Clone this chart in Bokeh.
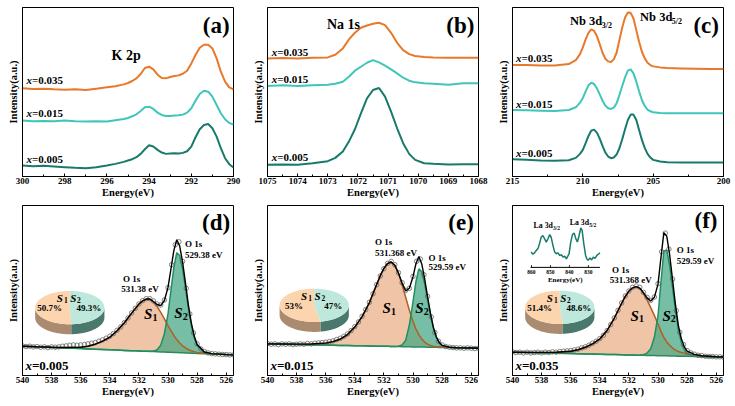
import numpy as np
from bokeh.plotting import figure
from bokeh.layouts import column, row
from bokeh.models import Range1d, FixedTicker
from bokeh.core.properties import value
from bokeh.embed import file_html
from bokeh.resources import INLINE

FONT = "Liberation Serif"
C005 = "#177a6b"
C015 = "#3fc6bb"
C035 = "#e8782a"
SAMPLES = ["0.005", "0.015", "0.035"]

# ---------------- K 2p ----------------
K2P_E = [300, 299.5, 299, 298.5, 298, 297.5, 297, 296.5, 296, 295.6, 295.2, 295.0, 294.8,
         294.6, 294.4, 294.2, 294.0, 293.8, 293.6, 293.4, 293.2, 293.0, 292.8, 292.6, 292.4,
         292.2, 292.0, 291.8, 291.6, 291.4, 291.2, 291.0, 290.8, 290.6, 290.4, 290.2, 290.0]
K2P_005 = [33, 31, 32, 30, 28, 26, 25, 28, 33, 38, 44, 48, 52, 58, 68, 82, 94, 90, 80, 72, 68,
           69, 70, 69, 71, 76, 90, 118, 142, 155, 158, 145, 120, 85, 55, 37, 27]
K2P_015 = [168, 166, 167, 166, 168, 166, 165, 166, 165, 169, 173, 176, 181, 187, 197, 208, 210,
           203, 192, 185, 182, 182, 183, 184, 186, 192, 205, 228, 248, 258, 255, 240, 215, 190,
           172, 161, 156]
K2P_035 = [265, 263, 264, 262, 261, 262, 260, 264, 268, 271, 277, 281, 287, 295, 308, 326, 330,
           322, 306, 296, 295, 299, 302, 304, 309, 318, 340, 365, 387, 396, 396, 385, 355, 315,
           285, 268, 262]

# ---------------- Na 1s ----------------
NA1S_E = [1075, 1074.5, 1074, 1073.5, 1073, 1072.75, 1072.5, 1072.3, 1072.1, 1071.9, 1071.7,
          1071.5, 1071.3, 1071.1, 1070.9, 1070.7, 1070.5, 1070.3, 1070.1, 1069.8, 1069.5, 1069,
          1068.5, 1068]
NA1S_005 = [35, 36, 35, 40, 46, 56, 75, 105, 142, 190, 235, 260, 266, 240, 195, 145, 100, 68, 50,
            40, 38, 36, 37, 37]
NA1S_015 = [272, 274, 272, 274, 276, 279, 285, 300, 318, 330, 342, 350, 343, 333, 322, 310, 297,
            288, 283, 280, 279, 276, 280, 280]
NA1S_035 = [355, 356, 355, 357, 358, 366, 385, 412, 432, 447, 454, 459, 462, 455, 432, 402, 380,
            368, 362, 359, 358, 357, 357, 357]

# ---------------- Nb 3d ----------------
NB3D_E = [215, 214, 213, 212, 211, 210.5, 210.2, 210, 209.8, 209.6, 209.4, 209.2, 209, 208.8,
          208.6, 208.4, 208.2, 208, 207.8, 207.6, 207.4, 207.2, 207, 206.8, 206.6, 206.4, 206.2,
          206, 205.8, 205.6, 205.4, 205.2, 205, 204.5, 204, 203, 202, 201, 200]
NB3D_005 = [52, 50, 48, 47, 49, 56, 68, 80, 100, 122, 138, 141, 132, 114, 92, 72, 60, 55, 57, 66,
            85, 112, 142, 170, 186, 186, 170, 140, 110, 86, 68, 57, 50, 45, 43, 42, 42, 42, 42]
NB3D_015 = [200, 199, 198, 197, 200, 208, 222, 236, 256, 274, 282, 278, 265, 247, 228, 213, 205,
            203, 207, 220, 245, 272, 298, 318, 322, 310, 285, 256, 230, 212, 201, 196, 193, 191,
            190, 190, 190, 190, 190]
NB3D_035 = [335, 335, 334, 334, 338, 350, 368, 388, 412, 432, 442, 438, 422, 398, 372, 354, 346,
            344, 352, 372, 410, 448, 478, 493, 492, 475, 440, 405, 375, 355, 342, 335, 331, 328,
            326, 325, 324, 323, 323]

# ---------------- O 1s fits ----------------
O1S_FIT_E = [540, 539, 538, 537, 536, 535.5, 535, 534.5, 534, 533.5, 533, 532.5, 532.25, 532,
             531.75, 531.5, 531.25, 531, 530.75, 530.5, 530.25, 530, 529.8, 529.6, 529.4, 529.2,
             529, 528.8, 528.6, 528.4, 528.2, 528, 527.5, 527, 526, 525.5]
# baseline (Shirley-type, straight) end values at 540 eV and 525.5 eV
BG_D = [88, 62]
BG_E = [95, 82]
BG_F = [70, 55]
# component heights above baseline
S1_D = [0, 0, 0.5, 1.5, 4, 8, 15, 25, 38, 58, 83, 113, 127, 141, 151, 157, 157, 149, 136, 119,
        100, 80, 65, 51, 39, 29, 21, 15, 10, 7, 5, 3, 1, 0.5, 0, 0]
S2_D = [0] * 16 + [0.5, 1.5, 6, 20, 55, 115, 185, 255, 300, 292, 252, 195, 134, 84, 47, 24, 4,
                   0.5, 0, 0]
S1_E = [0, 0.5, 1, 2.5, 6, 11, 19, 33, 56, 88, 130, 185, 212, 234, 249, 254, 244, 220, 186, 148,
        110, 76, 54, 37, 24, 15, 9, 5, 3, 2, 1, 0.5, 0, 0, 0, 0]
S2_E = [0] * 16 + [0, 1, 5, 20, 66, 135, 196, 235, 226, 190, 143, 97, 57, 30, 14, 6, 1, 0, 0, 0]
S1_F = [0, 0.5, 1.5, 3, 7, 12, 20, 31, 46, 72, 110, 155, 176, 192, 202, 206, 201, 186, 166, 144,
        120, 95, 74, 55, 42, 32, 24, 18, 14, 11, 9, 7, 5, 3, 1, 0.5]
S2_F = [0] * 16 + [0.5, 2, 7, 20, 55, 120, 220, 315, 318, 272, 205, 136, 78, 42, 20, 9, 1.5, 0,
                   0, 0]

# measured O 1s points, 540 -> 525.5 eV in 0.25 eV steps
O1S_MEAS_E = [round(540 - 0.25 * i, 2) for i in range(59)]
MEAS_D = [89, 87, 88, 86, 87, 85, 86, 84, 86, 85,
          86, 88, 89, 91, 92, 91, 92, 93, 95, 97,
          99, 103, 107, 112, 118, 126, 136, 146, 159, 173,
          188, 202, 215, 225, 231, 231, 224, 215, 212, 227,
          264, 333, 393, 402, 343, 262, 185, 128, 95, 80,
          72, 68, 66, 65, 64, 63, 63, 62, 62]
MEAS_E = [96, 94, 95, 93, 95, 94, 95, 93, 94, 95,
          94, 96, 95, 97, 98, 99, 100, 102, 104, 108,
          112, 118, 125, 135, 147, 161, 178, 198, 220, 246,
          273, 299, 321, 337, 343, 333, 309, 279, 256, 262,
          298, 343, 350, 303, 238, 176, 129, 103, 92, 87,
          85, 84, 83, 83, 82, 83, 82, 81, 82]
MEAS_F = [71, 69, 70, 68, 70, 68, 69, 70, 68, 70,
          69, 71, 70, 72, 73, 74, 75, 77, 79, 83,
          86, 91, 97, 103, 111, 121, 135, 153, 173, 196,
          218, 239, 254, 265, 269, 265, 250, 235, 226, 236,
          276, 372, 428, 380, 290, 195, 130, 93, 75, 68,
          64, 61, 60, 58, 57, 57, 56, 56, 55]

# lattice-oxygen / adsorbed-oxygen shares (%)
PIE_D = [50.7, 49.3]
PIE_E = [53, 47]
PIE_F = [51.4, 48.6]

# La 3d inset spectrum
LA_E = [860.2, 859.3, 858.4, 857.5, 856.6, 855.8, 854.9, 854.0, 853.1, 852.2, 851.3, 850.4,
        849.6, 848.7, 847.8, 846.9, 846.0, 845.1, 844.2, 843.4, 842.5, 841.6, 840.2, 839.3,
        838.4, 837.5, 836.6, 835.8, 834.9, 834.0, 833.3, 832.4, 831.5, 830.8, 830.1, 829.2,
        828.3, 827.4, 826.5, 825.6, 824.8, 823.9]
LA_I = [33, 28, 31, 36, 40, 50, 64, 68, 61, 54, 61, 70, 64, 47, 33, 29, 31, 25, 27, 22, 24, 18,
        29, 54, 70, 73, 61, 54, 68, 84, 79, 50, 26, 18, 15, 20, 16, 22, 19, 25, 28, 31]
LA_TICKS = [860, 850, 840, 830]

S1_FILL, S1_LINE = "#eab08a", "#b35f1f"
S2_FILL, S2_LINE = "#43a583", "#1f8f60"
BG_LINE = "#2b8a5c"
S1_TOP, S2_TOP = "#fcd4ae", "#bde8db"
S1_SIDE, S2_SIDE = "#aa8b6f", "#4b786d"


def txt(r, x, y, s, size, style="bold", align="left", dx=0, color="black"):
    r.text(x=[x], y=[y], text=[s], x_offset=dx,
           text_font=value(FONT), text_font_size=value(size),
           text_font_style=value(style), text_align=value(align),
           text_baseline=value("middle"), text_color=value(color))


def sample_label(p, x, y, s, size, xw):
    txt(p, x, y, "x", size, "bold italic")
    txt(p, x, y, "=" + s, size, "bold", dx=xw)


def make_frame(xr, yr, height, top, bottom, ticks, minor):
    p = figure(width=245, height=height, x_range=Range1d(*xr), y_range=Range1d(*yr),
               output_backend="svg", toolbar_location=None,
               min_border_left=22, min_border_right=12,
               min_border_top=top, min_border_bottom=bottom)
    p.grid.visible = False
    p.outline_line_color = "black"
    p.outline_line_width = 1
    p.outline_line_alpha = 1
    xa = p.xaxis[0]
    xa.ticker = FixedTicker(ticks=ticks, minor_ticks=minor)
    xa.major_tick_in, xa.major_tick_out = 3, 0
    xa.minor_tick_in, xa.minor_tick_out = 2, 0
    xa.axis_line_color = "black"
    xa.major_tick_line_color = "black"
    xa.minor_tick_line_color = "black"
    xa.major_label_text_font = FONT
    xa.major_label_text_font_style = "bold"
    xa.major_label_text_font_size = "9px"
    xa.major_label_text_color = "black"
    xa.major_label_standoff = 1
    xa.axis_label = "Energy(eV)"
    xa.axis_label_text_font = FONT
    xa.axis_label_text_font_style = "bold"
    xa.axis_label_text_font_size = "10.5px"
    xa.axis_label_text_color = "black"
    xa.axis_label_standoff = 0
    ya = p.yaxis[0]
    ya.ticker = FixedTicker(ticks=[])
    ya.major_tick_line_color = None
    ya.minor_tick_line_color = None
    ya.axis_line_color = "black"
    ya.major_label_standoff = 0
    ya.axis_label = "Intensity(a.u.)"
    ya.axis_label_text_font = FONT
    ya.axis_label_text_font_style = "bold"
    ya.axis_label_text_font_size = "10.5px"
    ya.axis_label_text_color = "black"
    ya.axis_label_standoff = 4
    return p


def spectra_fig(E, series, xr, ticks, minor, label_x, label_y, letter, letter_xy):
    p = make_frame(xr, (0, 508), 200, 7, 23, ticks, minor)
    for ys, c in zip(series, [C005, C015, C035]):
        p.line(E, ys, line_color=c, line_width=2)
    for s, ly in zip(SAMPLES, label_y):
        sample_label(p, label_x, ly, s, "11px", 5.5)
    txt(p, letter_xy[0], letter_xy[1], letter, "23px", align="center")
    return p


def draw_pie(p, cx, cy, rx, ry, shares):
    sub = p.subplot(x_source=Range1d(-1, 1), y_source=Range1d(-1, 1),
                    x_target=Range1d(cx + rx, cx - rx), y_target=Range1d(cy - ry, cy + ry))
    depth = 0.6
    split = 90 + 360 * shares[0] / 100.0

    def arc(a0, a1, n=60):
        t = np.radians(np.linspace(a0, a1, n))
        return np.cos(t), np.sin(t)

    for a0, a1, col in [(180, split, S1_SIDE), (split, 360, S2_SIDE)]:
        xs, ys = arc(a0, a1)
        sub.patch(np.r_[xs, xs[::-1]], np.r_[ys, ys[::-1] - depth],
                  fill_color=col, line_color=None)
    for a0, a1, col in [(90, split, S1_TOP), (split, 450, S2_TOP)]:
        xs, ys = arc(a0, a1)
        sub.patch(np.r_[0, xs], np.r_[0, ys], fill_color=col, line_color=None)

    txt(sub, -0.38, 0.58, "S", "11px", "bold italic")
    txt(sub, -0.17, 0.44, "1", "7.5px", "bold")
    txt(sub, 0.01, 0.58, "S", "11px", "bold italic")
    txt(sub, 0.21, 0.44, "2", "7.5px", "bold")
    txt(sub, -0.58, -0.05, f"{shares[0]:g}%", "9px", align="center")
    txt(sub, 0.55, -0.05, f"{shares[1]:g}%", "9px", align="center")


def o1s_fig(h1, h2, bg_ends, meas, shares, pie_c, sample, texts, s_pos, letter, letter_y):
    ticks = list(range(526, 541, 2))
    minor = list(range(527, 540, 2))
    p = make_frame((540, 525.5), (0, 511), 206, 5, 31, ticks, minor)
    E = np.array(O1S_FIT_E, dtype=float)
    bg = bg_ends[0] + (E - 540.0) * (bg_ends[1] - bg_ends[0]) / (525.5 - 540.0)
    s1 = bg + np.array(h1, dtype=float)
    s2 = bg + np.array(h2, dtype=float)
    env = bg + np.array(h1, dtype=float) + np.array(h2, dtype=float)
    p.varea(x=E, y1=bg, y2=s1, fill_color=S1_FILL, fill_alpha=0.75)
    p.varea(x=E, y1=bg, y2=s2, fill_color=S2_FILL, fill_alpha=0.72)
    p.line(E, bg, line_color=BG_LINE, line_width=1.5)
    p.line(E, s1, line_color=S1_LINE, line_width=1.5)
    p.line(E, s2, line_color=S2_LINE, line_width=1.5)
    p.scatter(O1S_MEAS_E, meas, marker="circle", size=4.5, line_color="#666666",
              line_width=0.8, fill_color="white", fill_alpha=0.0)
    p.line(E, env, line_color="black", line_width=1.4)

    draw_pie(p, pie_c[0], pie_c[1], 2.38, 50, shares)

    for (x, y, s) in texts:
        txt(p, x, y, s, "9px")
    for (sx, sy, sub) in s_pos:
        txt(p, sx, sy, "S", "15px", "bold italic")
        txt(p, sx - 0.58, sy - 10, sub, "10px", "bold")
    sample_label(p, 539.8, 30, sample, "13px", 6.5)
    txt(p, 526.7, letter_y, letter, "23px", align="center")
    return p


# ---- top row ----
pa = spectra_fig(K2P_E, [K2P_005, K2P_015, K2P_035], (300, 290),
                 list(range(290, 301, 2)), list(range(291, 300, 2)),
                 299.81, [52, 190, 290], "(a)", (290.82, 455))
txt(pa, 295.09, 365, "K 2p", "14px", align="center")

pb = spectra_fig(NA1S_E, [NA1S_005, NA1S_015, NA1S_035], (1075, 1068),
                 list(range(1068, 1076)), [1068.5 + i for i in range(7)],
                 1074.86, [60, 293, 375], "(b)", (1068.6, 455))
txt(pb, 1072.48, 458, "Na 1s", "14px", align="center")

pc = spectra_fig(NB3D_E, [NB3D_005, NB3D_015, NB3D_035], (215, 200),
                 [200, 205, 210, 215], [202.5, 207.5, 212.5],
                 214.76, [70, 218, 355], "(c)", (201.23, 455))
txt(pc, 210.92, 468, "Nb 3d", "12.5px")
txt(pc, 208.66, 455, "3/2", "8px")
txt(pc, 205.93, 478, "Nb 3d", "12.5px")
txt(pc, 203.68, 465, "5/2", "8px")

# ---- bottom row ----
pd = o1s_fig(S1_D, S2_D, BG_D, MEAS_D, PIE_D, (536.75, 204), SAMPLES[0],
             [(528.84, 395, "O 1s"), (528.84, 363, "529.38 eV"),
              (533.10, 290, "O 1s"), (533.21, 260, "531.38 eV")],
             [(531.65, 185, "1"), (529.57, 188, "2")], "(d)", 460)

pe = o1s_fig(S1_E, S2_E, BG_E, MEAS_E, PIE_E, (536.79, 211), SAMPLES[1],
             [(532.61, 400, "O 1s"), (532.61, 368, "531.368 eV"),
              (528.93, 353, "O 1s"), (528.93, 325, "529.59 eV")],
             [(532.10, 202, "1"), (529.85, 202, "2")], "(e)", 460)

pf = o1s_fig(S1_F, S2_F, BG_F, MEAS_F, PIE_F, (536.75, 205), SAMPLES[2],
             [(528.71, 377, "O 1s"), (528.71, 345, "529.59 eV"),
              (533.16, 318, "O 1s"), (533.32, 287, "531.368 eV")],
             [(531.89, 180, "1"), (529.70, 180, "2")], "(f)", 465)

# La 3d inset inside panel (f)
ins = pf.subplot(x_source=Range1d(860.5, 823.9), y_source=Range1d(0, 100),
                 x_target=Range1d(538.76, 533.99), y_target=Range1d(325, 466))
ins.line(LA_E, LA_I, line_color=C005, line_width=1.5)
ins.segment(x0=[860.5], y0=[0], x1=[823.9], y1=[0], line_color="black", line_width=1)
ins.segment(x0=LA_TICKS, y0=[0] * 4, x1=LA_TICKS, y1=[5] * 4, line_color="black", line_width=0.8)
ins.text(x=LA_TICKS, y=[-10] * 4, text=[str(t) for t in LA_TICKS],
         text_font=value(FONT), text_font_size=value("5.5px"), text_font_style=value("bold"),
         text_align=value("center"), text_baseline=value("middle"), text_color=value("black"))
txt(ins, 842.2, -27, "Energy(eV)", "7px", align="center")
txt(ins, 858.9, 89, "La 3d", "7.8px")
txt(ins, 848.7, 84, "3/2", "5.5px")
txt(ins, 839.8, 96, "La 3d", "7.8px")
txt(ins, 829.6, 91, "5/2", "5.5px")

layout = column(row(pa, pb, pc), row(pd, pe, pf))
with open("out.html", "w") as f:
    f.write(file_html(layout, INLINE))
